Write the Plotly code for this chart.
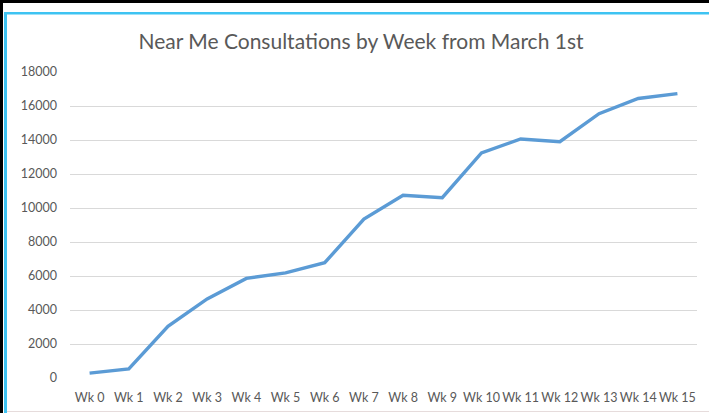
import plotly.graph_objects as go

weeks = ["Wk 0", "Wk 1", "Wk 2", "Wk 3", "Wk 4", "Wk 5", "Wk 6", "Wk 7",
         "Wk 8", "Wk 9", "Wk 10", "Wk 11", "Wk 12", "Wk 13", "Wk 14", "Wk 15"]
consultations = [290, 530, 3040, 4650, 5860, 6180, 6780, 9350,
                 10750, 10610, 13240, 14060, 13900, 15550, 16440, 16730]
y_ticks = [0, 2000, 4000, 6000, 8000, 10000, 12000, 14000, 16000, 18000]

W, H = 709, 413
L, R, T, B = 70, 12, 72, 35
FONT = "Lato, Carlito, Calibri, sans-serif"


def px(x):
    return (x - L) / (W - L - R)


def py(y):
    return 1 - (y - T) / (H - T - B)


fig = go.Figure()
fig.add_trace(go.Scatter(
    x=weeks, y=consultations, mode="lines",
    line=dict(color="#5b9bd5", width=3.4),
    hoverinfo="x+y", showlegend=False,
))

shapes = [
    # outer black frame (top, left)
    dict(type="rect", xref="paper", yref="paper", x0=px(0), x1=px(W + 5), y0=py(0), y1=py(3),
         fillcolor="#000000", line=dict(width=0), layer="above"),
    dict(type="rect", xref="paper", yref="paper", x0=px(0), x1=px(3), y0=py(0), y1=py(H + 5),
         fillcolor="#000000", line=dict(width=0), layer="above"),
    # light blue chart frame (top, left)
    dict(type="rect", xref="paper", yref="paper", x0=px(4), x1=px(W + 5), y0=py(12), y1=py(14.5),
         fillcolor="#3ec3f2", line=dict(width=0), layer="above"),
    dict(type="rect", xref="paper", yref="paper", x0=px(4), x1=px(7), y0=py(12), y1=py(H + 5),
         fillcolor="#3ec3f2", line=dict(width=0), layer="above"),
    # faint bottom edge
    dict(type="line", xref="paper", yref="paper", x0=px(7), x1=px(W + 5), y0=py(411.5), y1=py(411.5),
         line=dict(color="#e6dcdc", width=1), layer="above"),
]

fig.update_layout(
    width=W, height=H,
    margin=dict(l=L, r=R, t=T, b=B, autoexpand=False),
    paper_bgcolor="white", plot_bgcolor="white",
    font=dict(family=FONT, color="#595959", size=12.5),
    title=dict(text="Near Me Consultations by Week from March 1st",
               x=px(361), xanchor="center", xref="paper",
               y=1 - 42 / H, yanchor="middle",
               font=dict(family=FONT, size=21, color="#595959")),
    xaxis=dict(type="category", range=[-0.5, 15.5], showgrid=False, zeroline=False,
               showline=False, ticks="", tickfont=dict(size=12.5, color="#595959"),
               ticklabelstandoff=10, automargin=False),
    yaxis=dict(range=[0, 18000], tickvals=y_ticks, tickformat="d",
               showgrid=True, gridcolor="#d9d9d9", gridwidth=1, zeroline=False,
               showline=False, ticks="", tickfont=dict(size=12.5, color="#595959"),
               ticklabelstandoff=12, automargin=False),
    shapes=shapes,
)

fig.write_html(
    "out.html",
    config={"displayModeBar": False},
    post_script="document.body.style.margin='0';document.body.style.overflow='hidden';",
)
